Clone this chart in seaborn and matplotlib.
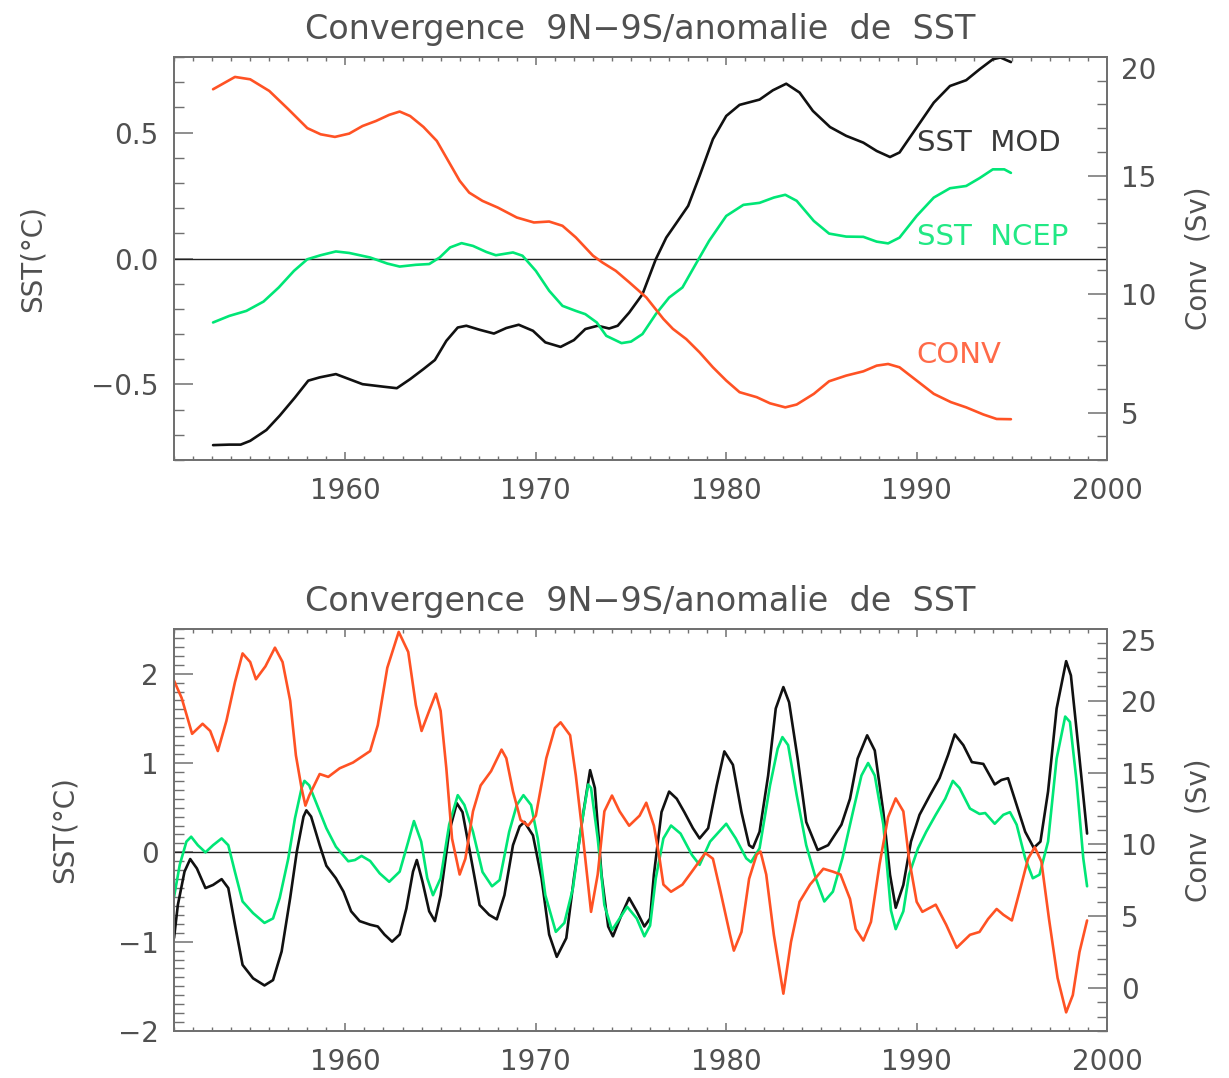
import matplotlib
matplotlib.use("Agg")
import matplotlib.pyplot as plt
import seaborn as sns
from matplotlib.ticker import MultipleLocator, FixedLocator, FixedFormatter

# ---------------- data: smoothed series (top panel) ----------------
top_mod_years = [1953.05, 1953.9, 1954.5, 1955.0, 1955.85, 1956.55, 1957.35, 1958.05, 1958.65, 1959.5,
                 1960.2, 1960.9, 1962.0, 1962.7, 1963.4, 1964.1, 1964.7, 1965.3, 1965.9, 1966.35,
                 1967.05, 1967.8, 1968.45, 1969.1, 1969.85, 1970.5, 1971.3, 1972.0, 1972.6, 1973.25,
                 1973.85, 1974.3, 1974.9, 1975.6, 1976.3, 1976.85, 1977.4, 1978.0, 1978.6, 1979.3,
                 1980.0, 1980.7, 1981.75, 1982.45, 1983.15, 1983.85, 1984.55, 1985.45, 1986.3, 1987.2,
                 1987.9, 1988.6, 1989.1, 1990.0, 1990.9, 1991.75, 1992.6, 1993.3, 1994.0, 1994.4,
                 1994.95]
top_mod = [-0.741, -0.739, -0.739, -0.724, -0.681, -0.624, -0.552, -0.485, -0.472, -0.459,
           -0.479, -0.499, -0.509, -0.515, -0.479, -0.439, -0.403, -0.327, -0.274, -0.267,
           -0.283, -0.298, -0.276, -0.263, -0.287, -0.333, -0.351, -0.324, -0.280, -0.267,
           -0.278, -0.267, -0.215, -0.142, -0.003, 0.083, 0.143, 0.209, 0.328, 0.474,
           0.566, 0.610, 0.631, 0.668, 0.694, 0.659, 0.586, 0.522, 0.487, 0.460,
           0.427, 0.403, 0.421, 0.520, 0.619, 0.685, 0.708, 0.751, 0.791, 0.798,
           0.780]

top_ncep_years = [1953.05, 1953.9, 1954.8, 1955.7, 1956.5, 1957.3, 1958.0, 1958.7, 1959.5, 1960.2,
                  1961.3, 1962.2, 1962.85, 1963.7, 1964.4, 1964.95, 1965.5, 1966.1, 1966.7, 1967.4,
                  1967.9, 1968.8, 1969.3, 1970.0, 1970.7, 1971.4, 1972.1, 1972.6, 1973.2, 1973.7,
                  1974.5, 1975.0, 1975.6, 1976.3, 1977.0, 1977.7, 1978.4, 1979.1, 1980.0, 1980.9,
                  1981.75, 1982.5, 1983.1, 1983.7, 1984.6, 1985.4, 1986.3, 1987.2, 1987.9, 1988.5,
                  1989.1, 1990.0, 1990.9, 1991.75, 1992.6, 1993.3, 1994.0, 1994.6, 1994.95]
top_ncep = [-0.254, -0.228, -0.208, -0.171, -0.115, -0.049, -0.003, 0.013, 0.028, 0.022,
            0.004, -0.020, -0.032, -0.025, -0.022, 0.004, 0.044, 0.061, 0.050, 0.026,
            0.013, 0.024, 0.011, -0.049, -0.128, -0.188, -0.208, -0.221, -0.254, -0.307,
            -0.336, -0.330, -0.300, -0.221, -0.155, -0.115, -0.022, 0.070, 0.169, 0.213,
            0.221, 0.242, 0.253, 0.229, 0.149, 0.099, 0.087, 0.086, 0.067, 0.060,
            0.083, 0.169, 0.242, 0.279, 0.288, 0.319, 0.354, 0.354, 0.340]

top_conv_years = [1953.05, 1954.2, 1955.0, 1956.0, 1957.0, 1958.0, 1958.7, 1959.45, 1960.2, 1960.9,
                  1961.6, 1962.3, 1962.85, 1963.4, 1964.1, 1964.8, 1965.4, 1966.0, 1966.5, 1967.2,
                  1968.0, 1969.0, 1969.9, 1970.7, 1971.4, 1972.1, 1973.0, 1973.5, 1974.2, 1974.9,
                  1975.8, 1976.7, 1977.2, 1977.9, 1978.6, 1979.3, 1980.0, 1980.7, 1981.6, 1982.3,
                  1983.1, 1983.7, 1984.6, 1985.4, 1986.3, 1987.2, 1987.9, 1988.5, 1989.1, 1990.0,
                  1990.9, 1991.8, 1992.6, 1993.5, 1994.2, 1994.95]
top_conv = [18.64, 19.16, 19.06, 18.57, 17.80, 17.00, 16.74, 16.63, 16.77, 17.09,
            17.30, 17.56, 17.70, 17.51, 17.05, 16.46, 15.62, 14.78, 14.28, 13.93,
            13.65, 13.23, 13.02, 13.06, 12.88, 12.39, 11.62, 11.33, 10.98, 10.50,
            9.86, 8.95, 8.53, 8.10, 7.54, 6.91, 6.35, 5.86, 5.65, 5.39,
            5.22, 5.34, 5.79, 6.32, 6.56, 6.74, 6.98, 7.05, 6.91, 6.35,
            5.79, 5.44, 5.22, 4.92, 4.73, 4.72]

# ---------------- data: interannual series (bottom panel) ----------------
bot_mod_years = [1951.0, 1951.2, 1951.55, 1951.85, 1952.2, 1952.65, 1953.05, 1953.5, 1953.85, 1954.2,
                 1954.6, 1955.15, 1955.75, 1956.2, 1956.65, 1957.1, 1957.45, 1957.8, 1957.95, 1958.2,
                 1958.65, 1959.0, 1959.5, 1959.9, 1960.3, 1960.75, 1961.3, 1961.7, 1962.05, 1962.45,
                 1962.85, 1963.2, 1963.55, 1963.75, 1964.05, 1964.4, 1964.7, 1965.0, 1965.45, 1965.85,
                 1966.15, 1966.6, 1967.05, 1967.55, 1967.95, 1968.35, 1968.8, 1969.15, 1969.4, 1969.85,
                 1970.3, 1970.7, 1971.1, 1971.6, 1972.0, 1972.5, 1972.85, 1973.1, 1973.45, 1973.8,
                 1974.05, 1974.5, 1974.9, 1975.3, 1975.7, 1976.0, 1976.2, 1976.6, 1977.0, 1977.4,
                 1977.8, 1978.25, 1978.6, 1979.05, 1979.5, 1979.9, 1980.35, 1980.8, 1981.2, 1981.4,
                 1981.75, 1982.2, 1982.6, 1983.0, 1983.3, 1983.75, 1984.2, 1984.8, 1985.35, 1986.05,
                 1986.5, 1986.9, 1987.4, 1987.8, 1988.25, 1988.6, 1988.9, 1989.3, 1989.7, 1990.15,
                 1990.7, 1991.2, 1991.65, 1992.0, 1992.45, 1992.9, 1993.5, 1994.1, 1994.45, 1994.8,
                 1995.25, 1995.7, 1996.15, 1996.5, 1996.9, 1997.35, 1997.85, 1998.1, 1998.5, 1998.95]
bot_mod = [-0.96, -0.59, -0.216, -0.075, -0.18, -0.40, -0.365, -0.30, -0.40, -0.81,
           -1.26, -1.41, -1.49, -1.43, -1.11, -0.51, 0.01, 0.40, 0.47, 0.40,
           0.08, -0.15, -0.29, -0.44, -0.66, -0.77, -0.81, -0.83, -0.92, -1.00,
           -0.92, -0.63, -0.216, -0.086, -0.33, -0.66, -0.77, -0.48, 0.23, 0.55,
           0.45, -0.067, -0.59, -0.70, -0.75, -0.48, 0.08, 0.29, 0.34, 0.19,
           -0.29, -0.92, -1.17, -0.96, -0.29, 0.45, 0.92, 0.72, -0.25, -0.83,
           -0.94, -0.70, -0.51, -0.66, -0.83, -0.74, -0.25, 0.45, 0.68, 0.60,
           0.45, 0.27, 0.156, 0.27, 0.75, 1.13, 0.98, 0.45, 0.08, 0.05,
           0.23, 0.86, 1.61, 1.85, 1.68, 1.05, 0.34, 0.026, 0.08, 0.31,
           0.60, 1.05, 1.31, 1.14, 0.45, -0.25, -0.62, -0.365, 0.12, 0.42,
           0.64, 0.83, 1.09, 1.32, 1.20, 1.01, 0.99, 0.76, 0.81, 0.83,
           0.53, 0.23, 0.05, 0.12, 0.68, 1.61, 2.14, 1.98, 1.16, 0.21]

bot_ncep_years = [1951.0, 1951.3, 1951.65, 1951.9, 1952.25, 1952.65, 1953.05, 1953.5, 1953.85, 1954.2,
                  1954.6, 1955.15, 1955.75, 1956.2, 1956.55, 1957.0, 1957.35, 1957.7, 1957.85, 1958.1,
                  1958.55, 1959.0, 1959.5, 1960.15, 1960.5, 1960.85, 1961.3, 1961.8, 1962.3, 1962.85,
                  1963.3, 1963.6, 1963.98, 1964.3, 1964.6, 1965.0, 1965.45, 1965.9, 1966.25, 1966.7,
                  1967.2, 1967.7, 1968.1, 1968.6, 1969.0, 1969.35, 1969.75, 1970.1, 1970.5, 1971.05,
                  1971.5, 1971.95, 1972.4, 1972.75, 1972.9, 1973.25, 1973.6, 1974.0, 1974.4, 1974.8,
                  1975.3, 1975.7, 1976.0, 1976.3, 1976.7, 1977.1, 1977.6, 1978.2, 1978.6, 1979.15,
                  1980.0, 1980.5, 1981.05, 1981.3, 1981.75, 1982.3, 1982.7, 1982.95, 1983.25, 1983.7,
                  1984.2, 1984.7, 1985.15, 1985.6, 1986.1, 1986.65, 1987.1, 1987.45, 1987.8, 1988.25,
                  1988.65, 1988.9, 1989.3, 1989.6, 1990.07, 1990.5, 1991.0, 1991.5, 1991.9, 1992.25,
                  1992.8, 1993.3, 1993.6, 1994.1, 1994.55, 1994.9, 1995.25, 1995.7, 1996.1, 1996.45,
                  1996.9, 1997.35, 1997.8, 1998.05, 1998.4, 1998.75, 1998.95]
bot_ncep = [-0.50, -0.14, 0.12, 0.175, 0.08, 0.0, 0.08, 0.156, 0.08, -0.22,
            -0.55, -0.68, -0.79, -0.74, -0.51, -0.07, 0.38, 0.72, 0.80, 0.75,
            0.51, 0.27, 0.063, -0.10, -0.086, -0.04, -0.097, -0.235, -0.33, -0.216,
            0.12, 0.35, 0.12, -0.29, -0.48, -0.29, 0.31, 0.64, 0.53, 0.23,
            -0.22, -0.38, -0.31, 0.23, 0.53, 0.64, 0.53, 0.156, -0.48, -0.89,
            -0.79, -0.40, 0.31, 0.76, 0.72, 0.156, -0.59, -0.87, -0.74, -0.61,
            -0.74, -0.94, -0.82, -0.29, 0.156, 0.30, 0.21, -0.03, -0.14, 0.12,
            0.32, 0.156, -0.067, -0.11, 0.045, 0.75, 1.16, 1.29, 1.20, 0.64,
            0.08, -0.29, -0.55, -0.44, -0.067, 0.45, 0.86, 1.00, 0.86, 0.31,
            -0.65, -0.86, -0.66, -0.25, 0.045, 0.23, 0.42, 0.60, 0.80, 0.72,
            0.49, 0.43, 0.44, 0.32, 0.42, 0.45, 0.31, -0.067, -0.29, -0.25,
            0.12, 1.05, 1.52, 1.46, 0.79, -0.067, -0.38]

bot_conv_years = [1951.0, 1951.4, 1951.95, 1952.5, 1952.9, 1953.3, 1953.75, 1954.2, 1954.6, 1955.0,
                  1955.3, 1955.8, 1956.3, 1956.7, 1957.1, 1957.4, 1957.7, 1957.9, 1958.1, 1958.65,
                  1959.1, 1959.7, 1960.4, 1961.3, 1961.7, 1962.2, 1962.8, 1963.3, 1963.7, 1964.0,
                  1964.4, 1964.75, 1965.0, 1965.3, 1965.6, 1966.0, 1966.3, 1966.7, 1967.1, 1967.65,
                  1968.2, 1968.45, 1968.8, 1969.2, 1969.6, 1970.0, 1970.55, 1971.0, 1971.3, 1971.8,
                  1972.1, 1972.5, 1972.9, 1973.25, 1973.6, 1974.0, 1974.4, 1974.9, 1975.45, 1975.8,
                  1976.2, 1976.5, 1976.7, 1977.1, 1977.7, 1978.25, 1978.9, 1979.3, 1979.7, 1980.2,
                  1980.4, 1980.8, 1981.2, 1981.6, 1981.8, 1982.1, 1982.5, 1983.0, 1983.4, 1983.85,
                  1984.4, 1985.1, 1985.6, 1986.0, 1986.5, 1986.8, 1987.2, 1987.6, 1988.05, 1988.5,
                  1988.9, 1989.3, 1989.6, 1990.0, 1990.3, 1991.0, 1991.55, 1992.1, 1992.8, 1993.3,
                  1993.75, 1994.2, 1994.55, 1995.0, 1995.4, 1995.85, 1996.2, 1996.55, 1996.95, 1997.4,
                  1997.85, 1998.2, 1998.55, 1998.95]
bot_conv = [21.4, 20.2, 17.7, 18.4, 17.9, 16.5, 18.6, 21.3, 23.3, 22.7,
            21.5, 22.4, 23.7, 22.7, 20.0, 16.2, 13.9, 12.7, 13.4, 14.9,
            14.7, 15.3, 15.7, 16.5, 18.3, 22.3, 24.8, 23.4, 19.7, 17.9,
            19.3, 20.5, 19.3, 15.3, 10.4, 7.9, 9.0, 12.3, 14.1, 15.1,
            16.6, 16.0, 13.7, 11.7, 11.3, 12.0, 16.0, 18.1, 18.5, 17.6,
            14.8, 10.2, 5.3, 7.9, 12.3, 13.4, 12.3, 11.3, 12.0, 12.9,
            11.3, 9.0, 7.2, 6.7, 7.2, 8.2, 9.4, 9.0, 6.7, 3.7,
            2.6, 3.9, 7.6, 9.3, 9.5, 7.9, 3.7, -0.4, 3.2, 6.0,
            7.2, 8.3, 8.1, 7.9, 6.2, 4.1, 3.3, 4.6, 8.6, 11.9,
            13.2, 12.3, 9.0, 6.0, 5.3, 5.8, 4.4, 2.8, 3.7, 3.9,
            4.8, 5.5, 5.1, 4.7, 6.7, 9.0, 9.8, 8.8, 4.8, 0.7,
            -1.7, -0.5, 2.5, 4.7]

title_text = "Convergence  9N\u22129S/anomalie  de  SST"
sst_label = "SST(\u00b0C)"
conv_label = "Conv  (Sv)"
top_sst_ticks = [-0.5, 0.0, 0.5]
top_sst_ticklabels = ["\u22120.5", "0.0", "0.5"]
top_conv_ticks = [5, 10, 15, 20]
bot_sst_ticks = [-2, -1, 0, 1, 2]
bot_sst_ticklabels = ["\u22122", "\u22121", "0", "1", "2"]
bot_conv_ticks = [0, 5, 10, 15, 20, 25]
year_ticks = [1960, 1970, 1980, 1990, 2000]

# ---------------- style ----------------
sns.set_style("white")
plt.rcParams["font.family"] = ["DejaVu Sans"]
plt.rcParams["lines.solid_joinstyle"] = "round"
plt.rcParams["lines.solid_capstyle"] = "round"

BLACK = "#111111"
GREEN = "#00e676"
RED = "#ff5224"
FRAME = "#707070"
TEXT = "#505050"

fig = plt.figure(figsize=(12.29, 10.78), dpi=100)
ax_top = fig.add_axes([0.1416, 0.5733, 0.7592, 0.3738])
ax_bot = fig.add_axes([0.1416, 0.0436, 0.7592, 0.3729])


def draw_panel(ax, mod_x, mod_y, ncep_x, ncep_y, conv_x, conv_y,
               sst_lim, sst_ticks, sst_labels, conv_lim, conv_ticks, sst_pad):
    ax2 = ax.twinx()
    ax.axhline(0.0, color="#222222", lw=1.0, zorder=1)
    sns.lineplot(x=mod_x, y=mod_y, ax=ax, color=BLACK, linewidth=1.9,
                 estimator=None, sort=False, legend=False)
    sns.lineplot(x=ncep_x, y=ncep_y, ax=ax, color=GREEN, linewidth=1.9,
                 estimator=None, sort=False, legend=False)
    sns.lineplot(x=conv_x, y=conv_y, ax=ax2, color=RED, linewidth=1.9,
                 estimator=None, sort=False, legend=False)

    ax.set_xlim(1951, 2000)
    ax.set_ylim(*sst_lim)
    ax2.set_ylim(*conv_lim)

    ax.xaxis.set_major_locator(FixedLocator(year_ticks))
    ax.xaxis.set_minor_locator(MultipleLocator(1))
    ax.set_xticklabels([str(y) for y in year_ticks])
    ax.yaxis.set_major_locator(FixedLocator(sst_ticks))
    ax.yaxis.set_major_formatter(FixedFormatter(sst_labels))
    ax.yaxis.set_minor_locator(MultipleLocator(0.1))
    ax2.yaxis.set_major_locator(FixedLocator(conv_ticks))
    ax2.set_yticklabels([str(v) for v in conv_ticks])
    ax2.yaxis.set_minor_locator(MultipleLocator(1))

    ax.tick_params(axis="x", which="major", direction="in", length=6, width=1.1,
                   top=True, bottom=True, color=FRAME, labelcolor=TEXT,
                   labelsize=20, pad=12)
    ax.tick_params(axis="x", which="minor", direction="in", length=3, width=1.0,
                   top=True, bottom=True, color=FRAME)
    ax.tick_params(axis="y", which="major", direction="in", length=14, width=1.1,
                   left=True, right=False, color=FRAME, labelcolor=TEXT,
                   labelsize=20, pad=11)
    ax.tick_params(axis="y", which="minor", direction="in", length=7.5, width=1.0,
                   left=True, right=False, color=FRAME)
    ax2.tick_params(axis="y", which="major", direction="in", length=14, width=1.1,
                    right=True, left=False, color=FRAME, labelcolor=TEXT,
                    labelsize=20, pad=10)
    ax2.tick_params(axis="y", which="minor", direction="in", length=7, width=1.0,
                    right=True, left=False, color=FRAME)

    # the uppermost right-hand label sits just under the frame corner
    ax2.get_yticklabels()[-1].set_verticalalignment("top")

    for a in (ax, ax2):
        for sp in a.spines.values():
            sp.set_color(FRAME)
            sp.set_linewidth(1.3)

    ax.set_xlabel("")
    ax.set_ylabel(sst_label, fontsize=20, color=TEXT, labelpad=sst_pad)
    ax2.set_ylabel(conv_label, fontsize=20, color=TEXT, labelpad=20)
    ax.set_title(title_text, fontsize=24, color=TEXT, pad=13)
    return ax2


draw_panel(ax_top, top_mod_years, top_mod, top_ncep_years, top_ncep,
           top_conv_years, top_conv, (-0.8, 0.8), top_sst_ticks,
           top_sst_ticklabels, (3, 20), top_conv_ticks, 32)
draw_panel(ax_bot, bot_mod_years, bot_mod, bot_ncep_years, bot_ncep,
           bot_conv_years, bot_conv, (-2.0, 2.5), bot_sst_ticks,
           bot_sst_ticklabels, (-3, 25), bot_conv_ticks, 28)

# series names written next to the curves in the upper panel
ax_top.text(1990.0, 0.46, "SST  MOD", color="#3a3a3a", fontsize=21,
            ha="left", va="center", zorder=5)
ax_top.text(1990.0, 0.085, "SST  NCEP", color="#22e884", fontsize=21,
            ha="left", va="center", zorder=5)
ax_top.text(1990.0, -0.385, "CONV", color="#ff6a48", fontsize=21,
            ha="left", va="center", zorder=5)

fig.savefig("out.png", dpi=100)
